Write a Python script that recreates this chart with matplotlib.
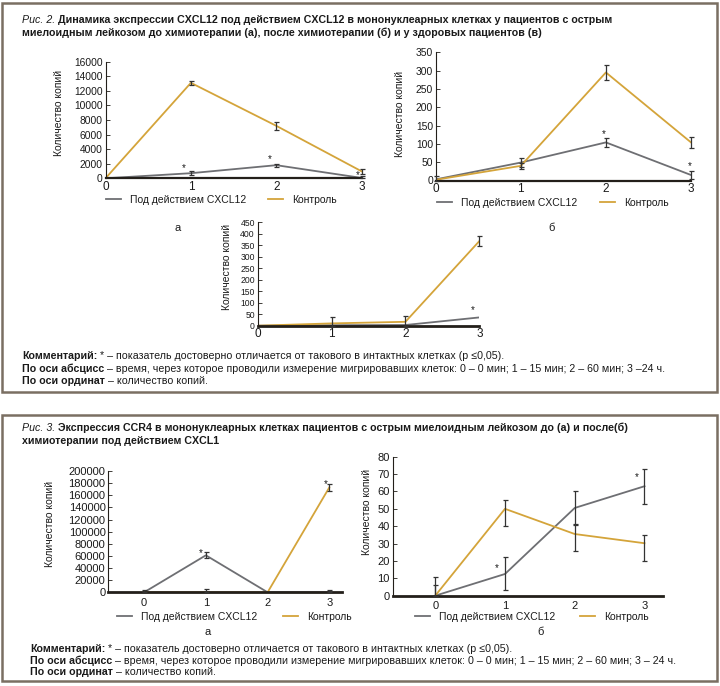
import matplotlib
matplotlib.use("Agg")
import matplotlib.pyplot as plt
from matplotlib.patches import Rectangle

plt.rcParams['font.family'] = ['Liberation Sans', 'DejaVu Sans']

# ── Data ──────────────────────────────────────────
x_time = [0, 1, 2, 3]
tick_labels = ['0', '1', '2', '3']
label_cxcl = 'Под действием CXCL12'
label_ctrl = 'Контроль'
ylabel = 'Количество копий'

# Рис. 2 а
f2a_cxcl = [0, 700, 1800, 50]
f2a_cxcl_err = [0, 250, 200, 300]
f2a_ctrl = [0, 13100, 7200, 950]
f2a_ctrl_err = [0, 250, 550, 350]
f2a_star_x = [0.92, 1.92, 2.95]
f2a_star_y = [1450, 2650, 450]

# Рис. 2 б
f2b_cxcl = [3, 49, 104, 15]
f2b_cxcl_err = [8, 12, 12, 10]
f2b_ctrl = [2, 40, 295, 104]
f2b_ctrl_err = [0, 9, 21, 16]
f2b_star_x = [1.97, 2.98]
f2b_star_y = [128, 40]

# Рис. 2 в
f2v_cxcl = [0, 2, 3, 36]
f2v_cxcl_err = [0, 0, 0, 0]
f2v_ctrl = [0, 10, 17, 368]
f2v_ctrl_err = [0, 28, 27, 23]
f2v_star_x = [2.91]
f2v_star_y = [70]

# Рис. 3 а
f3a_cxcl = [0, 61000, 0, 0]
f3a_cxcl_err = [3000, 5000, 0, 4000]
f3a_ctrl = [0, 0, 0, 173000]
f3a_ctrl_err = [0, 5000, 0, 6000]
f3a_star_x = [0.91, 2.95]
f3a_star_y = [64000, 178000]

# Рис. 3 б
f3b_cxcl = [0, 12.5, 50.5, 63]
f3b_cxcl_err = [11, 9.5, 9.5, 10]
f3b_ctrl = [0, 50, 35.5, 30.2]
f3b_ctrl_lo = [0, 10, 10, 10]
f3b_ctrl_hi = [6, 5, 5, 5]
f3b_star_x = [0.88, 2.89]
f3b_star_y = [16, 68]

W, H = 720, 686
TEXT = '#1a1a1a'
GRAY = '#6e6f73'
GOLD = '#d4a43a'
ERR = '#333333'
BOX = '#7a6f62'
AXIS = '#231f1a'
TXT_SIZE = 7.7

fig = plt.figure(figsize=(W / 100, H / 100), dpi=100)
fig.patch.set_facecolor('white')
renderer = fig.canvas.get_renderer()


def fx(px):
    return px / W


def fy(py):
    return 1 - py / H


def px_axes(left, top, right, bottom):
    return fig.add_axes([fx(left), fy(bottom), (right - left) / W, (bottom - top) / H])


def rich_line(x, y, parts, size):
    for txt, style, weight in parts:
        t = fig.text(fx(x), fy(y), txt, fontsize=size, fontstyle=style,
                     fontweight=weight, va='center', ha='left', color=TEXT)
        x += t.get_window_extent(renderer).width


def setup(ax, xlim, ylim, yticks, xsize, ysize, xpad, bottom_lw=1.6):
    ax.set_xlim(*xlim)
    ax.set_ylim(*ylim)
    ax.set_xticks(x_time)
    ax.set_xticklabels(tick_labels)
    ax.set_yticks(yticks)
    ax.patch.set_visible(False)
    for s in ['top', 'right']:
        ax.spines[s].set_visible(False)
    ax.spines['left'].set_linewidth(0.8)
    ax.spines['left'].set_color(AXIS)
    ax.spines['bottom'].set_linewidth(bottom_lw)
    ax.spines['bottom'].set_color(AXIS)
    ax.tick_params(axis='y', direction='in', length=3, width=0.6,
                   labelsize=ysize, pad=2, colors=AXIS, labelcolor=TEXT)
    ax.tick_params(axis='x', length=0, labelsize=xsize, pad=xpad, labelcolor=TEXT)


def series(ax, y, err_lo, err_hi, color):
    line, = ax.plot(x_time, y, color=color, lw=1.3, zorder=2)
    idx = [i for i in range(len(y)) if err_lo[i] > 0 or err_hi[i] > 0]
    if idx:
        # lower whisker stops at the x axis
        lo = [min(err_lo[i], y[i]) for i in idx]
        hi = [err_hi[i] for i in idx]
        eb = ax.errorbar([x_time[i] for i in idx], [y[i] for i in idx],
                         yerr=[lo, hi], fmt='none', ecolor=ERR, elinewidth=0.9,
                         capsize=1.8, capthick=0.9, zorder=3)
        for art in eb.get_children():
            art.set_clip_on(False)
    return line


def stars(ax, xs, ys):
    for sx, sy in zip(xs, ys):
        ax.text(sx, sy, '*', ha='center', va='center', fontsize=7, color=TEXT)


def legend_entry(line, text, x, y):
    fig.legend(handles=[line], labels=[text], loc='center left',
               bbox_to_anchor=(fx(x), fy(y)), frameon=False, borderpad=0,
               borderaxespad=0, handlelength=1.45, handletextpad=0.9,
               fontsize=7.5, labelcolor=TEXT)


def y_label(x, y):
    fig.text(fx(x), fy(y), ylabel, rotation=90, ha='center', va='center',
             fontsize=7.5, color=TEXT)


# ── Boxes ─────────────────────────────────────────
fig.add_artist(Rectangle((fx(2), fy(392)), 715 / W, 389 / H, transform=fig.transFigure,
                         fill=False, lw=1.8, edgecolor=BOX))
fig.add_artist(Rectangle((fx(2), fy(681)), 715 / W, 266 / H, transform=fig.transFigure,
                         fill=False, lw=1.8, edgecolor=BOX))

# ── Рис. 2 ────────────────────────────────────────
rich_line(22, 20, [('Рис. 2.', 'italic', 'normal'),
                   (' Динамика экспрессии CXCL12 под действием CXCL12 в мононуклеарных клетках у пациентов с острым',
                    'normal', 'bold')], TXT_SIZE)
rich_line(22, 33, [('миелоидным лейкозом до химиотерапии (а), после химиотерапии (б) и у здоровых пациентов (в)',
                    'normal', 'bold')], TXT_SIZE)

ax = px_axes(105.5, 61.7, 361.7, 178.3)
setup(ax, (0, 3), (0, 16000), range(0, 16001, 2000), 8.5, 7.4, 2)
l1 = series(ax, f2a_cxcl, f2a_cxcl_err, f2a_cxcl_err, GRAY)
l2 = series(ax, f2a_ctrl, f2a_ctrl_err, f2a_ctrl_err, GOLD)
stars(ax, f2a_star_x, f2a_star_y)
y_label(59, 113)
legend_entry(l1, label_cxcl, 105.7, 200)
legend_entry(l2, label_ctrl, 267.7, 200)
fig.text(fx(178), fy(228), 'а', ha='center', va='center', fontsize=8, color=TEXT)

ax = px_axes(435.7, 52.3, 691, 180.5)
setup(ax, (0, 3), (0, 350), range(0, 351, 50), 8.5, 7.4, 2)
l1 = series(ax, f2b_cxcl, f2b_cxcl_err, f2b_cxcl_err, GRAY)
l2 = series(ax, f2b_ctrl, f2b_ctrl_err, f2b_ctrl_err, GOLD)
stars(ax, f2b_star_x, f2b_star_y)
y_label(400, 114)
legend_entry(l1, label_cxcl, 436.7, 203)
legend_entry(l2, label_ctrl, 600, 203)
fig.text(fx(552), fy(228), 'б', ha='center', va='center', fontsize=8, color=TEXT)

ax = px_axes(257.7, 222.3, 479.3, 325.7)
setup(ax, (0, 3), (0, 450), range(0, 451, 50), 8.5, 6.2, 2, bottom_lw=2)
series(ax, f2v_cxcl, f2v_cxcl_err, f2v_cxcl_err, GRAY)
series(ax, f2v_ctrl, f2v_ctrl_err, f2v_ctrl_err, GOLD)
stars(ax, f2v_star_x, f2v_star_y)
y_label(226.7, 267)

note_a = ' – время, через которое проводили измерение мигрировавших клеток: 0 – 0 мин; 1 – 15 мин; 2 – 60 мин; 3 –24 ч.'
rich_line(22, 356, [('Комментарий:', 'normal', 'bold'),
                    (' * – показатель достоверно отличается от такового в интактных клетках (р ≤0,05).',
                     'normal', 'normal')], TXT_SIZE)
rich_line(22, 368.5, [('По оси абсцисс', 'normal', 'bold'), (note_a, 'normal', 'normal')], TXT_SIZE)
rich_line(22, 381, [('По оси ординат', 'normal', 'bold'), (' – количество копий.', 'normal', 'normal')], TXT_SIZE)

# ── Рис. 3 ────────────────────────────────────────
rich_line(22, 428, [('Рис. 3.', 'italic', 'normal'),
                    (' Экспрессия CCR4 в мононуклеарных клетках пациентов с острым миелоидным лейкозом до (а) и после(б)',
                     'normal', 'bold')], TXT_SIZE)
rich_line(22, 441.5, [('химиотерапии под действием CXCL1', 'normal', 'bold')], TXT_SIZE)

ax = px_axes(108.3, 471, 341.7, 592.3)
setup(ax, (-0.58, 3.2), (0, 200000), range(0, 200001, 20000), 8, 8, 4, bottom_lw=2)
l1 = series(ax, f3a_cxcl, f3a_cxcl_err, f3a_cxcl_err, GRAY)
l2 = series(ax, f3a_ctrl, f3a_ctrl_err, f3a_ctrl_err, GOLD)
stars(ax, f3a_star_x, f3a_star_y)
y_label(50, 524)
legend_entry(l1, label_cxcl, 116.7, 616.7)
legend_entry(l2, label_ctrl, 283, 616.7)
fig.text(fx(208), fy(632), 'а', ha='center', va='center', fontsize=8, color=TEXT)

ax = px_axes(392.7, 456.7, 663.3, 595.7)
setup(ax, (-0.61, 3.27), (0, 80), range(0, 81, 10), 8, 8, 4, bottom_lw=2)
l1 = series(ax, f3b_cxcl, f3b_cxcl_err, f3b_cxcl_err, GRAY)
l2 = series(ax, f3b_ctrl, f3b_ctrl_lo, f3b_ctrl_hi, GOLD)
stars(ax, f3b_star_x, f3b_star_y)
y_label(367, 512)
legend_entry(l1, label_cxcl, 415, 616.7)
legend_entry(l2, label_ctrl, 580, 616.7)
fig.text(fx(541), fy(632), 'б', ha='center', va='center', fontsize=8, color=TEXT)

note_b = ' – время, через которое проводили измерение мигрировавших клеток: 0 – 0 мин; 1 – 15 мин; 2 – 60 мин; 3 – 24 ч.'
rich_line(30, 649, [('Комментарий:', 'normal', 'bold'),
                    (' * – показатель достоверно отличается от такового в интактных клетках (р ≤0,05).',
                     'normal', 'normal')], TXT_SIZE)
rich_line(30, 660.7, [('По оси абсцисс', 'normal', 'bold'), (note_b, 'normal', 'normal')], TXT_SIZE)
rich_line(30, 672, [('По оси ординат', 'normal', 'bold'), (' – количество копий.', 'normal', 'normal')], TXT_SIZE)

fig.savefig('out.png', dpi=100, facecolor='white')
